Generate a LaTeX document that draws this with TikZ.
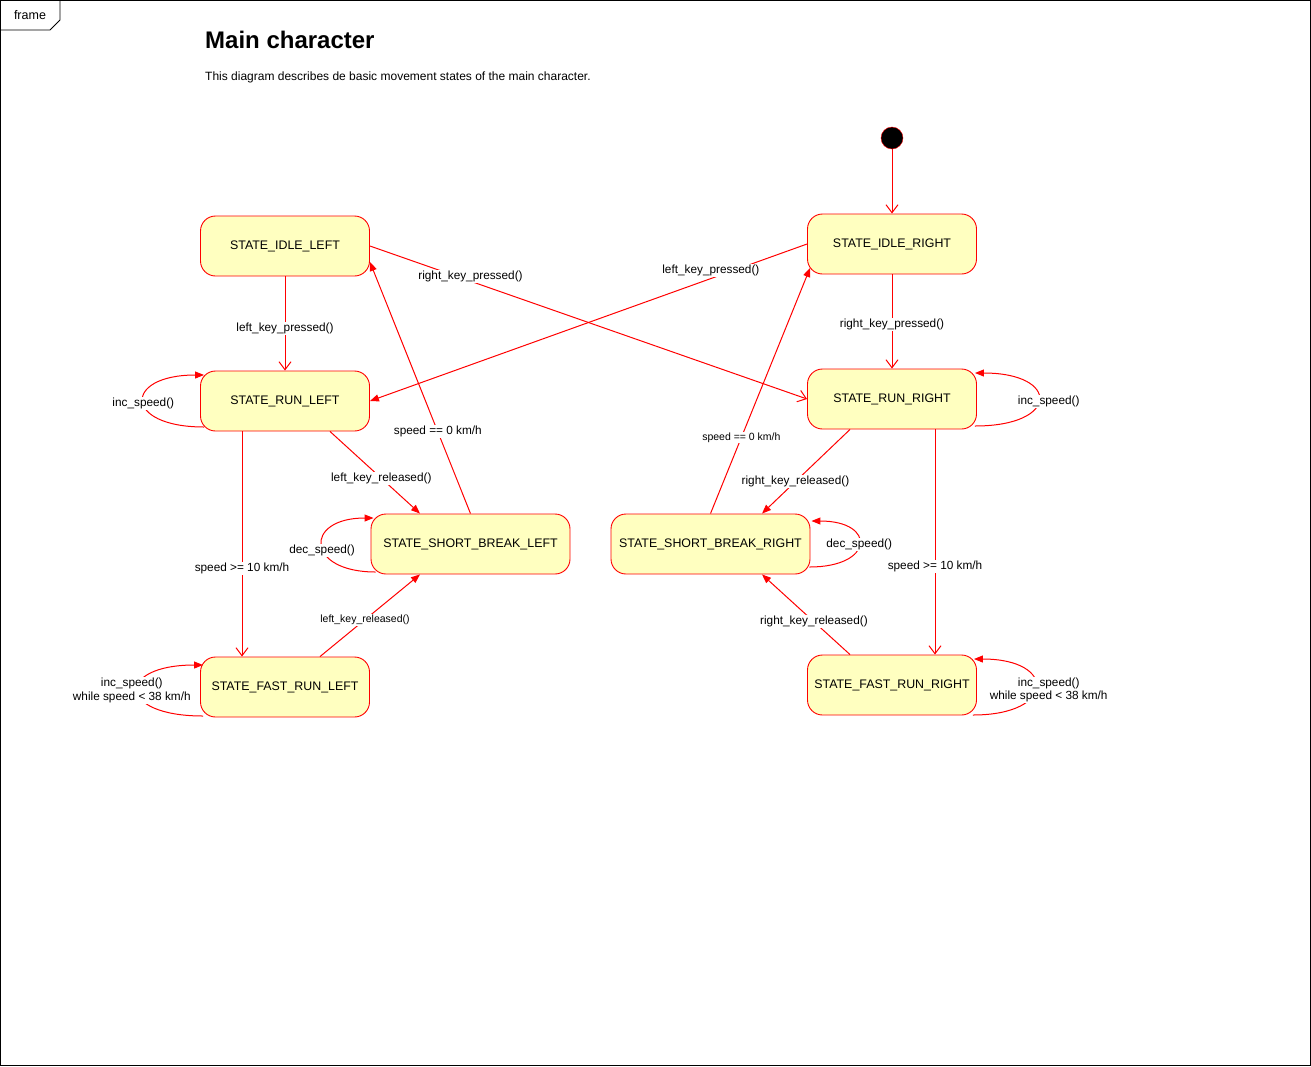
\documentclass[tikz,border=0pt]{standalone}
\usepackage{fontspec}
\setmainfont{Liberation Sans}
\usetikzlibrary{arrows.meta}
\definecolor{stfill}{HTML}{FFFFC0}

\begin{document}
\begin{tikzpicture}[x=1pt,y=-1pt,
	state/.style={draw=red, line width=0.9pt, fill=stfill, rounded corners=15pt, minimum width=169pt, minimum height=60pt, inner sep=0pt, font=\fontsize{12.4}{14}\selectfont},
	widestate/.style={state, minimum width=199pt},
	edge/.style={draw=red, line width=1pt},
	openarrow/.style={edge, -{Straight Barb[length=8pt,width=12pt]}},
	fullarrow/.style={edge, -{Triangle[length=9pt,width=7pt]}},
	lbl/.style={fill=white, inner sep=1pt, font=\fontsize{11.8}{13.5}\selectfont, align=center},
	smalllbl/.style={lbl, font=\fontsize{10.5}{12}\selectfont}]
	\useasboundingbox (0,0) rectangle (1311,1066);
	
	% frame and tab
	\draw[line width=1pt] (0.5,0.5) rectangle (1310.5,1065.5);
	\draw[line width=0.8pt] (0.5,30) -- (50,30) -- (60,20) -- (60,0.5);
	\node[font=\fontsize{12.5}{14}\selectfont] (tab) at (30,15) {frame};
	
	% title and description
	\node[anchor=base west, inner sep=0pt, font=\bfseries\fontsize{24}{28}\selectfont] (title) at (205,48) {Main character};
	\node[anchor=base west, inner sep=0pt, font=\fontsize{12}{14}\selectfont] (desc) at (205,80) {This diagram describes de basic movement states of the main character.};
	
	% states left
	\node[state] (IL) at (285,246) {STATE\_IDLE\_LEFT};
	\node[state] (RL) at (285,401) {STATE\_RUN\_LEFT};
	\node[widestate] (SBL) at (470.5,544) {STATE\_SHORT\_BREAK\_LEFT};
	\node[state] (FRL) at (285,687) {STATE\_FAST\_RUN\_LEFT};
	
	% states right
	\node[state] (IR) at (892,244) {STATE\_IDLE\_RIGHT};
	\node[state] (RR) at (892,399) {STATE\_RUN\_RIGHT};
	\node[widestate] (SBR) at (710.5,544) {STATE\_SHORT\_BREAK\_RIGHT};
	\node[state] (FRR) at (892,685) {STATE\_FAST\_RUN\_RIGHT};
	
	% initial state
	\node[circle, fill=black, draw=red, minimum size=22pt, inner sep=0pt] (init) at (892,138) {};
	\draw[openarrow] (init) -- (IR);
	
	% transitions between the idle states
	\draw[openarrow] (IL) -- node[lbl, pos=0.55] {left\_key\_pressed()} (RL);
	\draw[openarrow] (IR) -- node[lbl, pos=0.53] {right\_key\_pressed()} (RR);
	\draw[openarrow] (IL.east) -- node[lbl, pos=0.23, yshift=5pt] {right\_key\_pressed()} (RR.west);
	\draw[fullarrow] (IR.west) -- node[lbl, pos=0.22, yshift=8pt] {left\_key\_pressed()} (RL.east);
	
	% left side
	\draw[fullarrow] ([xshift=45pt]RL.south) -- node[lbl, pos=0.57] {left\_key\_released()} ([xshift=-50.5pt]SBL.north);
	\draw[openarrow] ([xshift=-43pt]RL.south) -- node[lbl, pos=0.61] {speed >= 10 km/h} ([xshift=-43pt]FRL.north);
	\draw[fullarrow] (SBL.north) -- node[lbl, pos=0.325] {speed == 0 km/h} ([yshift=-16pt]IL.east);
	\draw[fullarrow] ([xshift=35pt]FRL.north) -- node[smalllbl, pos=0.45] {left\_key\_released()} ([xshift=-50.5pt]SBL.south);
	
	% right side
	\draw[fullarrow] ([xshift=-42pt]RR.south) -- node[lbl, pos=0.62] {right\_key\_released()} ([xshift=51.5pt]SBR.north);
	\draw[openarrow] ([xshift=43pt]RR.south) -- node[lbl, pos=0.61] {speed >= 10 km/h} ([xshift=43pt]FRR.north);
	\draw[fullarrow] (SBR.north) -- node[smalllbl, pos=0.31] {speed == 0 km/h} ([xshift=3pt,yshift=-24pt]IR.west);
	\draw[fullarrow] ([xshift=-42pt]FRR.north) -- node[lbl, pos=0.41] {right\_key\_released()} ([xshift=51.5pt]SBR.south);
	
	% self loops left
	\draw[fullarrow] ([xshift=4pt,yshift=-26pt]RL.west) to[out=180, in=180, distance=81pt] node[lbl, yshift=-2pt] {inc\_speed()} ([xshift=4pt,yshift=26pt]RL.west);
	\draw[fullarrow] ([xshift=5pt,yshift=-28pt]SBL.west) to[out=180, in=180, distance=70pt] node[lbl, yshift=-5pt] {dec\_speed()} ([xshift=3pt,yshift=26pt]SBL.west);
	\draw[fullarrow] ([xshift=3pt,yshift=-29pt]FRL.west) to[out=180, in=180, distance=87pt] node[lbl, xshift=-6pt] {inc\_speed()\\while speed < 38 km/h} ([xshift=3pt,yshift=22pt]FRL.west);
	
	% self loops right
	\draw[fullarrow] ([xshift=-2pt,yshift=-27pt]RR.east) to[out=0, in=0, distance=85pt] node[lbl, xshift=10pt, yshift=-2pt] {inc\_speed()} ([xshift=-2pt,yshift=26pt]RR.east);
	\draw[fullarrow] ([xshift=-1pt,yshift=-23pt]SBR.east) to[out=0, in=0, distance=65pt] node[lbl] {dec\_speed()} ([xshift=1pt,yshift=23pt]SBR.east);
	\draw[fullarrow] ([xshift=-4pt,yshift=-30pt]FRR.east) to[out=0, in=0, distance=83pt] node[lbl, xshift=13pt, yshift=-3pt] {inc\_speed()\\while speed < 38 km/h} ([xshift=-3pt,yshift=26pt]FRR.east);
\end{tikzpicture}
\end{document}
